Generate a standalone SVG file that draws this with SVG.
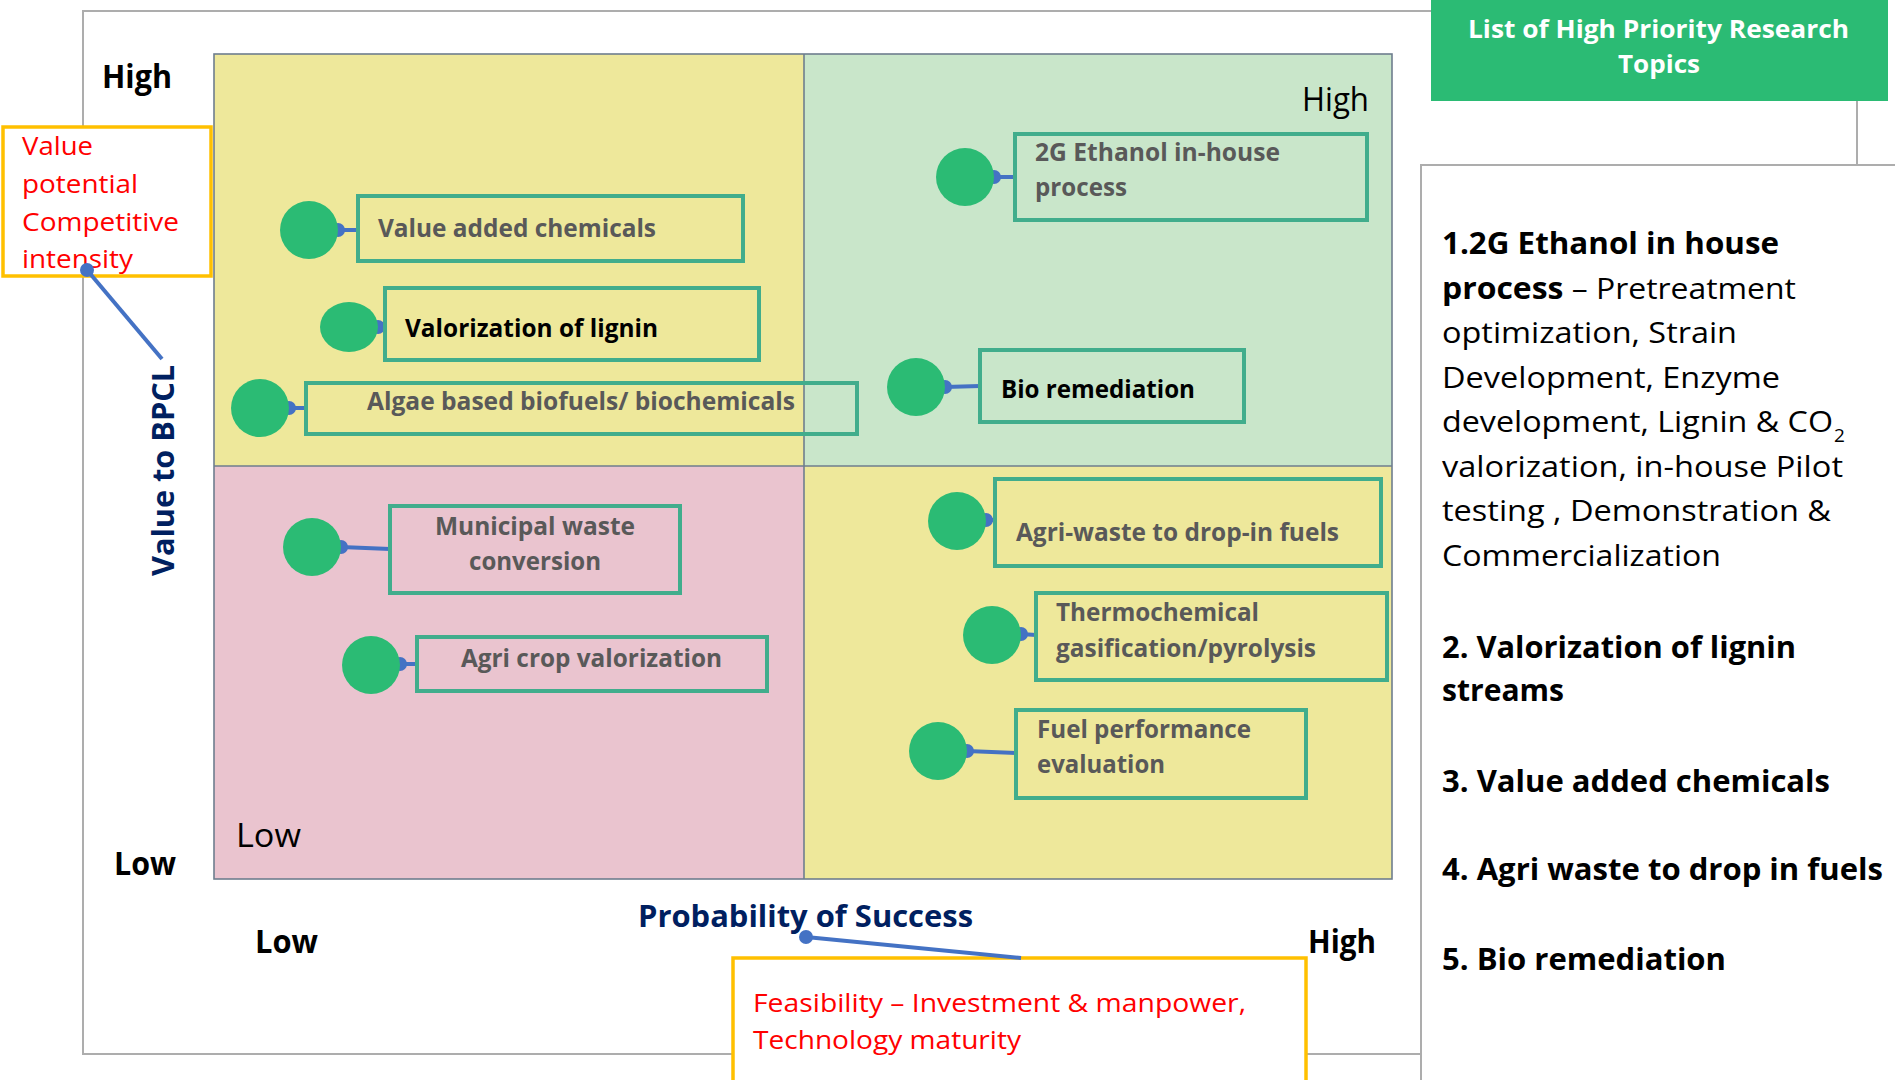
<svg xmlns="http://www.w3.org/2000/svg" width="1895" height="1080" viewBox="0 0 1895 1080">
<style>
text{font-family:"Open Sans","Noto Sans","Liberation Sans",sans-serif}
.frame{fill:none;stroke:#ADADAD;stroke-width:2}
.quad{stroke:#6E7E8E;stroke-width:1.6}
.dot{fill:#2BBB74}
.box{fill:none;stroke:#41AD8C;stroke-width:4}
.lbl{font-size:24.5px;font-weight:700;fill:#595959}
.lblk{font-size:24.5px;font-weight:700;fill:#000}
.conn{stroke:#4472C4;stroke-width:4;fill:none}
.cdot{fill:#4472C4}
.axis{font-size:32px;font-weight:700;fill:#000}
.ql{font-size:33px;fill:#000}
.red{font-size:25.5px;fill:#FF0000}
.navy{font-size:31px;font-weight:700;fill:#002060}
.pan{font-size:29.5px;fill:#000}
.b{font-weight:700}
.obox{fill:#fff;stroke:#FFC000;stroke-width:3.5}
.ttl{font-size:25px;font-weight:700;fill:#fff}
</style>

<!-- outer frame -->
<g id="frame">
<polyline class="frame" points="1431,11 83,11 83,1054 1421,1054"/>
<rect class="frame" x="1421" y="165" width="480" height="930"/>
<line class="frame" x1="1857" y1="101" x2="1857" y2="165"/>
</g>

<!-- quadrants -->
<g id="quadrants">
<rect x="214" y="54" width="590" height="412" fill="#EEE89B"/>
<rect x="804" y="54" width="588" height="412" fill="#C9E6CA"/>
<rect x="214" y="466" width="590" height="413" fill="#EAC4CF"/>
<rect x="804" y="466" width="588" height="413" fill="#EEE89B"/>
<rect x="214" y="54" width="1178" height="825" fill="none" class="quad"/>
<line class="quad" x1="804" y1="54" x2="804" y2="879"/>
<line class="quad" x1="214" y1="466" x2="1392" y2="466"/>
<text class="ql" x="1302" y="111" textLength="67" lengthAdjust="spacingAndGlyphs">High</text>
<text class="ql" x="236" y="847" textLength="65" lengthAdjust="spacingAndGlyphs">Low</text>
</g>

<!-- axis labels -->
<g id="axes">
<text class="axis" x="102" y="88" textLength="70" lengthAdjust="spacingAndGlyphs">High</text>
<text class="axis" x="114" y="875" textLength="62" lengthAdjust="spacingAndGlyphs">Low</text>
<text class="axis" x="255" y="953" textLength="63" lengthAdjust="spacingAndGlyphs">Low</text>
<text class="axis" x="1308" y="953" textLength="68" lengthAdjust="spacingAndGlyphs">High</text>
<text class="navy" x="638" y="927" textLength="335" lengthAdjust="spacingAndGlyphs">Probability of Success</text>
<text class="navy" transform="translate(174,576) rotate(-90)" x="0" y="0" textLength="211" lengthAdjust="spacingAndGlyphs">Value to BPCL</text>
</g>

<!-- callout boxes -->
<g id="value-callout">
<rect class="obox" x="3" y="127" width="208" height="149"/>
<text class="red" x="22" y="155" textLength="71" lengthAdjust="spacingAndGlyphs">Value</text>
<text class="red" x="22" y="193" textLength="116" lengthAdjust="spacingAndGlyphs">potential</text>
<text class="red" x="22" y="231" textLength="157" lengthAdjust="spacingAndGlyphs">Competitive</text>
<text class="red" x="22" y="268" textLength="111" lengthAdjust="spacingAndGlyphs">intensity</text>
</g>
<g id="feasibility-callout">
<rect class="obox" x="733" y="958" width="573" height="140"/>
<text class="red" x="753" y="1012" textLength="493" lengthAdjust="spacingAndGlyphs">Feasibility – Investment &amp; manpower,</text>
<text class="red" x="753" y="1049" textLength="268" lengthAdjust="spacingAndGlyphs">Technology maturity</text>
</g>

<!-- connectors -->
<g id="connectors">
<line class="conn" x1="87" y1="270" x2="162" y2="359" stroke-width="3.5"/>
<circle class="cdot" cx="87" cy="270" r="7"/>
<line class="conn" x1="806" y1="937" x2="1021" y2="958" stroke-width="3.5"/>
<circle class="cdot" cx="806" cy="937" r="7"/>

<line class="conn" x1="338" y1="230" x2="358" y2="230"/><circle class="cdot" cx="338" cy="230" r="7"/>
<line class="conn" x1="378" y1="327" x2="385" y2="327"/><circle class="cdot" cx="378" cy="327" r="7"/>
<line class="conn" x1="289" y1="408" x2="306" y2="408"/><circle class="cdot" cx="289" cy="408" r="7"/>
<line class="conn" x1="994" y1="177" x2="1015" y2="177"/><circle class="cdot" cx="994" cy="177" r="7"/>
<line class="conn" x1="945" y1="387" x2="980" y2="386"/><circle class="cdot" cx="945" cy="387" r="7"/>
<line class="conn" x1="341" y1="547" x2="390" y2="549"/><circle class="cdot" cx="341" cy="547" r="7"/>
<line class="conn" x1="400" y1="664" x2="417" y2="664"/><circle class="cdot" cx="400" cy="664" r="7"/>
<line class="conn" x1="986" y1="520" x2="995" y2="520"/><circle class="cdot" cx="986" cy="520" r="7"/>
<line class="conn" x1="1021" y1="634" x2="1036" y2="635"/><circle class="cdot" cx="1021" cy="634" r="7"/>
<line class="conn" x1="967" y1="751" x2="1016" y2="753"/><circle class="cdot" cx="967" cy="751" r="7"/>
</g>

<!-- nodes -->
<g id="node-value-added">
<ellipse class="dot" cx="309" cy="230" rx="29" ry="29"/>
<rect class="box" x="358" y="196" width="385" height="65"/>
<text class="lbl" x="378" y="237" textLength="278" lengthAdjust="spacingAndGlyphs">Value added chemicals</text>
</g>
<g id="node-lignin">
<ellipse class="dot" cx="349" cy="327" rx="29" ry="25"/>
<rect class="box" x="385" y="288" width="374" height="72"/>
<text class="lblk" x="405" y="337" textLength="253" lengthAdjust="spacingAndGlyphs">Valorization of lignin</text>
</g>
<g id="node-algae">
<ellipse class="dot" cx="260" cy="408" rx="29" ry="29"/>
<rect class="box" x="306" y="383" width="551" height="51"/>
<text class="lbl" x="367" y="410" textLength="428" lengthAdjust="spacingAndGlyphs">Algae based biofuels/ biochemicals</text>
</g>
<g id="node-2g-ethanol">
<ellipse class="dot" cx="965" cy="177" rx="29" ry="29"/>
<rect class="box" x="1015" y="134" width="352" height="86"/>
<text class="lbl" x="1035" y="161" textLength="245" lengthAdjust="spacingAndGlyphs">2G Ethanol in-house</text>
<text class="lbl" x="1035" y="196" textLength="92" lengthAdjust="spacingAndGlyphs">process</text>
</g>
<g id="node-bio-remediation">
<ellipse class="dot" cx="916" cy="387" rx="29" ry="29"/>
<rect class="box" x="980" y="350" width="264" height="72"/>
<text class="lblk" x="1001" y="398" textLength="194" lengthAdjust="spacingAndGlyphs">Bio remediation</text>
</g>
<g id="node-municipal">
<ellipse class="dot" cx="312" cy="547" rx="29" ry="29"/>
<rect class="box" x="390" y="506" width="290" height="87"/>
<text class="lbl" x="435" y="535" textLength="200" lengthAdjust="spacingAndGlyphs">Municipal waste</text>
<text class="lbl" x="469" y="570" textLength="132" lengthAdjust="spacingAndGlyphs">conversion</text>
</g>
<g id="node-agri-crop">
<ellipse class="dot" cx="371" cy="665" rx="29" ry="29"/>
<rect class="box" x="417" y="637" width="350" height="54"/>
<text class="lbl" x="461" y="667" textLength="261" lengthAdjust="spacingAndGlyphs">Agri crop valorization</text>
</g>
<g id="node-agri-waste">
<ellipse class="dot" cx="957" cy="521" rx="29" ry="29"/>
<rect class="box" x="995" y="479" width="386" height="87"/>
<text class="lbl" x="1016" y="541" textLength="323" lengthAdjust="spacingAndGlyphs">Agri-waste to drop-in fuels</text>
</g>
<g id="node-thermochemical">
<ellipse class="dot" cx="992" cy="635" rx="29" ry="29"/>
<rect class="box" x="1036" y="593" width="351" height="87"/>
<text class="lbl" x="1056" y="621" textLength="203" lengthAdjust="spacingAndGlyphs">Thermochemical</text>
<text class="lbl" x="1056" y="657" textLength="260" lengthAdjust="spacingAndGlyphs">gasification/pyrolysis</text>
</g>
<g id="node-fuel-performance">
<ellipse class="dot" cx="938" cy="751" rx="29" ry="29"/>
<rect class="box" x="1016" y="710" width="290" height="88"/>
<text class="lbl" x="1037" y="738" textLength="214" lengthAdjust="spacingAndGlyphs">Fuel performance</text>
<text class="lbl" x="1037" y="773" textLength="128" lengthAdjust="spacingAndGlyphs">evaluation</text>
</g>

<!-- title -->
<g id="title">
<rect x="1431" y="-2" width="457" height="103" fill="#2BBB74"/>
<text class="ttl" x="1468" y="38" textLength="381" lengthAdjust="spacingAndGlyphs">List of High Priority Research</text>
<text class="ttl" x="1618" y="73" textLength="82" lengthAdjust="spacingAndGlyphs">Topics</text>
</g>

<!-- list panel -->
<g id="topics-list">
<text class="pan b" x="1442" y="254" textLength="337" lengthAdjust="spacingAndGlyphs">1.2G Ethanol in house</text>
<text class="pan" x="1442" y="299" textLength="354" lengthAdjust="spacingAndGlyphs"><tspan class="b">process</tspan> – Pretreatment</text>
<text class="pan" x="1442" y="343" textLength="295" lengthAdjust="spacingAndGlyphs">optimization, Strain</text>
<text class="pan" x="1442" y="388" textLength="338" lengthAdjust="spacingAndGlyphs">Development, Enzyme</text>
<text class="pan" x="1442" y="432" textLength="391" lengthAdjust="spacingAndGlyphs">development, Lignin &amp; CO</text>
<text x="1834" y="442" font-size="19" fill="#000">2</text>
<text class="pan" x="1442" y="477" textLength="401" lengthAdjust="spacingAndGlyphs">valorization, in-house Pilot</text>
<text class="pan" x="1442" y="521" textLength="389" lengthAdjust="spacingAndGlyphs">testing , Demonstration &amp;</text>
<text class="pan" x="1442" y="566" textLength="279" lengthAdjust="spacingAndGlyphs">Commercialization</text>
<text class="pan b" x="1442" y="658" textLength="354" lengthAdjust="spacingAndGlyphs">2. Valorization of lignin</text>
<text class="pan b" x="1442" y="701" textLength="122" lengthAdjust="spacingAndGlyphs">streams</text>
<text class="pan b" x="1442" y="792" textLength="388" lengthAdjust="spacingAndGlyphs">3. Value added chemicals</text>
<text class="pan b" x="1442" y="880" textLength="441" lengthAdjust="spacingAndGlyphs">4. Agri waste to drop in fuels</text>
<text class="pan b" x="1442" y="970" textLength="284" lengthAdjust="spacingAndGlyphs">5. Bio remediation</text>
</g>
</svg>
